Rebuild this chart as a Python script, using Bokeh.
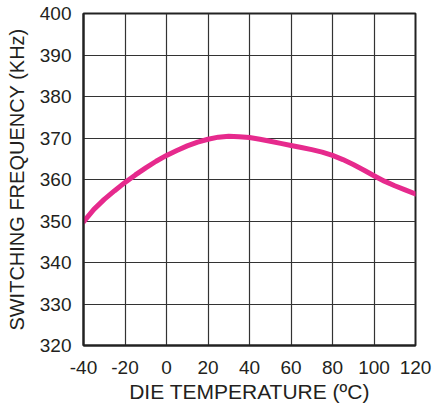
from bokeh.plotting import figure
from bokeh.models import FixedTicker, Range1d, ColumnDataSource, PrintfTickFormatter
from bokeh.embed import file_html
from bokeh.resources import INLINE

# Data (every 5 degC)
temperature_c = [-40, -35, -30, -25, -20, -15, -10, -5, 0, 5, 10, 15, 20, 25, 30, 35, 40,
                 45, 50, 55, 60, 65, 70, 75, 80, 85, 90, 95, 100, 105, 110, 115, 120]
switching_freq_khz = [349.8, 352.8, 355.2, 357.3, 359.3, 361.1, 362.8, 364.4, 365.8, 367.0,
                      368.1, 369.0, 369.7, 370.2, 370.4, 370.3, 370.1, 369.7, 369.2, 368.7,
                      368.2, 367.7, 367.2, 366.6, 365.8, 364.8, 363.6, 362.3, 360.9, 359.6,
                      358.5, 357.5, 356.5]
x_ticks = [-40, -20, 0, 20, 40, 60, 80, 100, 120]
y_ticks = [320, 330, 340, 350, 360, 370, 380, 390, 400]

FONT = "Liberation Sans"

p = figure(frame_width=332, frame_height=332,
           x_range=Range1d(-40, 120), y_range=Range1d(320, 400),
           output_backend="svg", toolbar_location=None,
           min_border_left=83, min_border_right=21, min_border_top=13, min_border_bottom=62,
           background_fill_color="white", border_fill_color="white")

p.outline_line_color = "#222222"
p.outline_line_width = 2

src = ColumnDataSource(dict(x=temperature_c, y=switching_freq_khz))
p.line("x", "y", source=src, line_color="#E62A8D", line_width=5, line_join="round", line_cap="round")

for ax in (p.xaxis[0], p.yaxis[0]):
    ax.major_tick_line_color = None
    ax.minor_tick_line_color = None
    ax.axis_line_color = "#222222"
    ax.axis_line_width = 2
    ax.major_label_text_font = FONT
    ax.major_label_text_font_size = "19px"
    ax.major_label_text_color = "#231f20"
    ax.axis_label_text_font = FONT
    ax.axis_label_text_font_style = "normal"
    ax.axis_label_text_color = "#231f20"
    ax.formatter = PrintfTickFormatter(format="%d")

p.xaxis[0].axis_label_text_font_size = "21px"
p.yaxis[0].axis_label_text_font_size = "20px"
p.xaxis[0].ticker = FixedTicker(ticks=x_ticks)
p.yaxis[0].ticker = FixedTicker(ticks=y_ticks)
p.xaxis[0].axis_label = "DIE TEMPERATURE (ºC)"
p.yaxis[0].axis_label = "SWITCHING FREQUENCY (KHz)"
p.xaxis[0].major_label_standoff = 9
p.xaxis[0].axis_label_standoff = 3
p.yaxis[0].major_label_standoff = 6
p.yaxis[0].axis_label_standoff = 9

for g in (p.xgrid[0], p.ygrid[0]):
    g.grid_line_color = "#333333"
    g.grid_line_width = 1.2
p.xgrid[0].ticker = FixedTicker(ticks=x_ticks)
p.ygrid[0].ticker = FixedTicker(ticks=y_ticks)

open("out.html", "w").write(file_html(p, INLINE))
